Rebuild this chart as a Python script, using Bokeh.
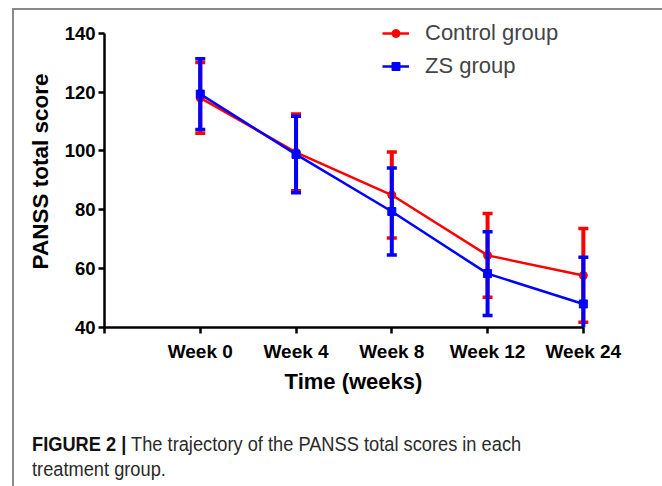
import numpy as np
from bokeh.plotting import figure
from bokeh.layouts import column
from bokeh.models import (Range1d, FixedTicker, Legend, LegendItem, ColumnDataSource, Div)
from bokeh.embed import file_html
from bokeh.resources import INLINE

# ---- data ----
weeks = ["Week 0", "Week 4", "Week 8", "Week 12", "Week 24"]
control_mean = [118.0, 99.5, 85.0, 64.5, 57.7]
control_sd = [12.0, 13.0, 14.6, 14.2, 15.9]
zs_mean = [119.3, 98.8, 79.4, 58.3, 48.0]
zs_sd = [12.0, 13.0, 14.8, 14.2, 15.9]
y_ticks = [40, 60, 80, 100, 120, 140]

RED = "#ff0000"
BLUE = "#0000ff"
FONT = "Liberation Sans"

xpos = list(range(len(weeks)))


def make_src(mean, sd):
    m = np.array(mean)
    s = np.array(sd)
    return ColumnDataSource(dict(x=xpos, y=m, lo=m - s, hi=m + s))


csrc = make_src(control_mean, control_sd)
zsrc = make_src(zs_mean, zs_sd)

W = 644
p = figure(width=W, height=395, output_backend="svg", toolbar_location=None,
           x_range=Range1d(-1, 4.2), y_range=Range1d(40, 146),
           min_border_left=90, min_border_right=W - 90 - 498, min_border_top=5,
           min_border_bottom=78)
p.outline_line_color = None
p.grid.visible = False
p.background_fill_color = "white"
p.border_fill_color = "white"

# axes
p.xaxis.ticker = FixedTicker(ticks=[-1] + xpos)
overrides = {-1: ""}
overrides.update({i: w for i, w in zip(xpos, weeks)})
p.xaxis.major_label_overrides = overrides
p.xaxis.bounds = (-1, 4)
p.yaxis.ticker = FixedTicker(ticks=y_ticks)
p.yaxis.bounds = (40, 140)
for ax in (p.xaxis, p.yaxis):
    ax.axis_line_width = 2.5
    ax.axis_line_color = "black"
    ax.major_tick_line_width = 2.5
    ax.major_tick_line_color = "black"
    ax.major_tick_out = 6
    ax.major_tick_in = 0
    ax.minor_tick_line_color = None
    ax.major_label_text_font = FONT
    ax.major_label_text_font_style = "bold"
    ax.major_label_text_color = "black"
    ax.axis_label_text_font = FONT
    ax.axis_label_text_font_style = "bold"
    ax.axis_label_text_color = "black"
p.xaxis.axis_label_text_font_size = "22px"
p.yaxis.axis_label_text_font_size = "22.5px"
p.xaxis.major_label_text_font_size = "19px"
p.yaxis.major_label_text_font_size = "18.5px"
p.xaxis.major_label_standoff = 7
p.yaxis.major_label_standoff = 3
p.xaxis.axis_label = "Time (weeks)"
p.yaxis.axis_label = "PANSS total score"
p.xaxis.axis_label_standoff = 4
p.yaxis.axis_label_standoff = 9

# control group
cl = p.line("x", "y", source=csrc, line_color=RED, line_width=2.5)
p.segment("x", "lo", "x", "hi", source=csrc, line_color=RED, line_width=4)
p.scatter("x", "hi", source=csrc, marker="dash", size=10, line_color=RED, line_width=3.5)
p.scatter("x", "lo", source=csrc, marker="dash", size=10, line_color=RED, line_width=3.5)
cm = p.scatter("x", "y", source=csrc, marker="circle", size=8, fill_color=RED, line_color=RED)

# ZS group
zl = p.line("x", "y", source=zsrc, line_color=BLUE, line_width=2.5)
p.segment("x", "lo", "x", "hi", source=zsrc, line_color=BLUE, line_width=4)
p.scatter("x", "hi", source=zsrc, marker="dash", size=10, line_color=BLUE, line_width=3.5)
p.scatter("x", "lo", source=zsrc, marker="dash", size=10, line_color=BLUE, line_width=3.5)
zm = p.scatter("x", "y", source=zsrc, marker="square", size=8, fill_color=BLUE, line_color=BLUE)

legend = Legend(items=[LegendItem(label="Control group", renderers=[cl, cm]),
                       LegendItem(label="ZS group", renderers=[zl, zm])],
                location=(278, 248), padding=0, margin=0, spacing=7,
                glyph_width=27, glyph_height=20, label_standoff=16,
                label_text_font=FONT, label_text_font_size="22px",
                border_line_color=None, background_fill_alpha=0)
p.add_layout(legend, "center")

caption = Div(
    text='<div style="transform: scale(0.89, 1); transform-origin: left top; white-space: nowrap;">'
         '<b style="color:#111111">FIGURE 2 |</b> The trajectory of the PANSS total scores in each'
         '<br>treatment group.</div>',
    width=W, height=78,
    styles={"font-family": FONT, "font-size": "20.5px", "line-height": "25px",
            "color": "#2a2a2a", "padding-left": "13px", "padding-top": "21px",
            "box-sizing": "border-box", "background": "white"})

layout = column(p, caption, spacing=0,
                styles={"margin-left": "12px", "margin-top": "8px",
                        "border-top": "2px solid #8a8a8a",
                        "border-left": "2px solid #8a8a8a",
                        "border-right": "2px solid #8a8a8a",
                        "background": "white"})

open("out.html", "w").write(file_html(layout, INLINE))
